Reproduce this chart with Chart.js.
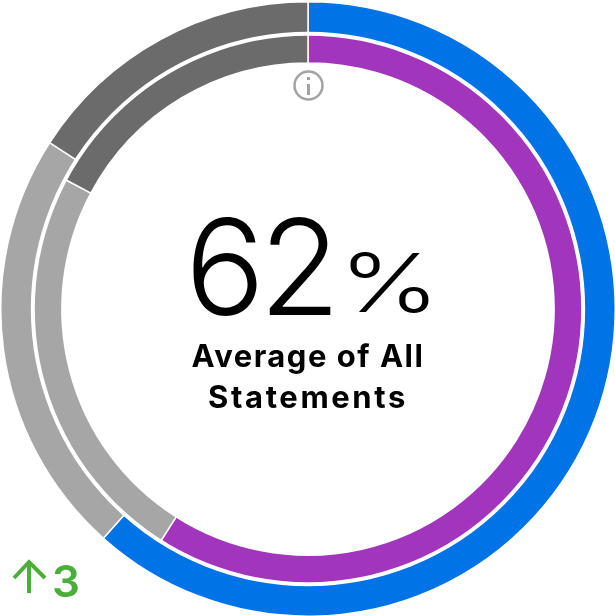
<!DOCTYPE html>
<html><head><meta charset="utf-8">
<script src="https://cdn.jsdelivr.net/npm/chart.js@4"></script>
<style>
html,body{margin:0;padding:0;background:#fff;width:615px;height:616px;overflow:hidden}
#wrap{position:absolute;left:0;top:0;width:616px;height:618px}
.t{position:absolute;white-space:nowrap;font-family:Inter,sans-serif;color:#000;line-height:1}
</style></head><body>
<div id="wrap"><canvas id="c" width="616" height="618"></canvas></div>
<div class="t" id="big" style="left:185px;top:200px;font-size:133px;font-weight:300;letter-spacing:-6px">62</div>
<div class="t" id="pct" style="left:339px;top:243px;font-size:81px;font-weight:300;letter-spacing:-2px;transform:scaleX(1.33);transform-origin:left center">%</div>
<div class="t" id="l1" style="left:0;width:616px;text-align:center;top:340px;font-size:31px;font-weight:700;letter-spacing:1.5px">Average of All</div>
<div class="t" id="l2" style="left:0;width:616px;text-align:center;top:381px;font-size:31px;font-weight:700;letter-spacing:2.6px">Statements</div>
<div class="t" id="delta" style="left:52px;top:559px;font-size:44px;font-weight:600;color:#4cae3a">3</div>
<svg style="position:absolute;left:0;top:0" width="615" height="616">
<circle cx="308.5" cy="85.5" r="14" fill="none" stroke="#a3a3a3" stroke-width="2.5"/>
<path d="M308.5 84v11M308.5 77v3" stroke="#a3a3a3" stroke-width="3" fill="none"/>
<path d="M29 593V562M14 578L29 562L45 578" stroke="#4cae3a" stroke-width="4" fill="none"/>
</svg>
<script>
const categories = ['Favorable', 'Neutral', 'Unfavorable'];
const currentValues = [61.6, 22.5, 15.9];
const benchmarkValues = [59, 23.8, 17.2];
const currentColors = ['#0073e6', '#a6a6a6', '#6b6b6b'];
const benchmarkColors = ['#a136bc', '#a6a6a6', '#6b6b6b'];
const ringGap = {
  id: 'ringGap',
  afterDatasetsDraw(chart) {
    const arc = chart.getDatasetMeta(0).data[0];
    const { ctx } = chart;
    ctx.save();
    ctx.beginPath();
    ctx.arc(arc.x, arc.y, arc.innerRadius, 0, Math.PI * 2);
    ctx.strokeStyle = '#fff';
    ctx.lineWidth = 4;
    ctx.stroke();
    ctx.restore();
  }
};
new Chart(document.getElementById('c'), {
  type: 'doughnut',
  data: { labels: categories, datasets: [
    { data: currentValues, backgroundColor: currentColors, borderColor: '#fff', borderWidth: 1.5, weight: 32 },
    { data: benchmarkValues, backgroundColor: benchmarkColors, borderColor: '#fff', borderWidth: 1.5, weight: 29 }
  ]},
  plugins: [ringGap],
  options: { responsive: false, animation: false, cutout: '80.1%',
    plugins: { legend: { display: false }, tooltip: { enabled: false } } }
});
</script>
</body></html>
